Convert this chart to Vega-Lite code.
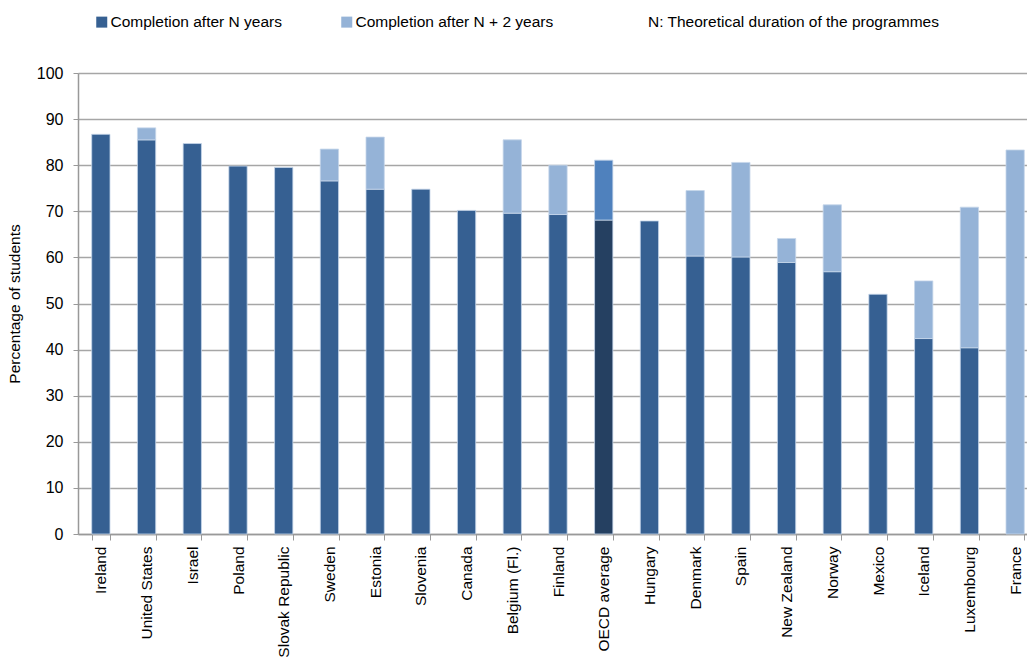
{
  "$schema": "https://vega.github.io/schema/vega-lite/v6.json",
  "width": 949,
  "height": 461,
  "autosize": {"type": "none"},
  "padding": {"left": 78, "top": 73, "right": 0, "bottom": 126},
  "background": "white",
  "config": {
    "font": "Liberation Sans",
    "view": {"stroke": null}
  },
  "title": {
    "text": "N: Theoretical duration of the programmes",
    "anchor": "start",
    "frame": "group",
    "dx": 570,
    "offset": 3,
    "dy": 19,
    "fontSize": 15.5,
    "fontWeight": "normal",
    "color": "#000000",
    "font": "Liberation Sans"
  },
  "data": {
    "values": [
      {"country": "Ireland", "series": "Completion after N years", "value": 86.7},
      {"country": "United States", "series": "Completion after N years", "value": 85.5},
      {"country": "United States", "series": "Completion after N + 2 years", "value": 2.6},
      {"country": "Israel", "series": "Completion after N years", "value": 84.7},
      {"country": "Poland", "series": "Completion after N years", "value": 79.8},
      {"country": "Slovak Republic", "series": "Completion after N years", "value": 79.5},
      {"country": "Sweden", "series": "Completion after N years", "value": 76.6},
      {"country": "Sweden", "series": "Completion after N + 2 years", "value": 6.9},
      {"country": "Estonia", "series": "Completion after N years", "value": 74.8},
      {"country": "Estonia", "series": "Completion after N + 2 years", "value": 11.3},
      {"country": "Slovenia", "series": "Completion after N years", "value": 74.8},
      {"country": "Canada", "series": "Completion after N years", "value": 70.2},
      {"country": "Belgium (Fl.)", "series": "Completion after N years", "value": 69.6},
      {"country": "Belgium (Fl.)", "series": "Completion after N + 2 years", "value": 15.9},
      {"country": "Finland", "series": "Completion after N years", "value": 69.3},
      {"country": "Finland", "series": "Completion after N + 2 years", "value": 10.7},
      {"country": "OECD average", "series": "Completion after N years", "value": 68.1},
      {"country": "OECD average", "series": "Completion after N + 2 years", "value": 13.0},
      {"country": "Hungary", "series": "Completion after N years", "value": 67.9},
      {"country": "Denmark", "series": "Completion after N years", "value": 60.3},
      {"country": "Denmark", "series": "Completion after N + 2 years", "value": 14.2},
      {"country": "Spain", "series": "Completion after N years", "value": 60.1},
      {"country": "Spain", "series": "Completion after N + 2 years", "value": 20.5},
      {"country": "New Zealand", "series": "Completion after N years", "value": 58.9},
      {"country": "New Zealand", "series": "Completion after N + 2 years", "value": 5.2},
      {"country": "Norway", "series": "Completion after N years", "value": 56.9},
      {"country": "Norway", "series": "Completion after N + 2 years", "value": 14.5},
      {"country": "Mexico", "series": "Completion after N years", "value": 52.0},
      {"country": "Iceland", "series": "Completion after N years", "value": 42.4},
      {"country": "Iceland", "series": "Completion after N + 2 years", "value": 12.5},
      {"country": "Luxembourg", "series": "Completion after N years", "value": 40.4},
      {"country": "Luxembourg", "series": "Completion after N + 2 years", "value": 30.5},
      {"country": "France", "series": "Completion after N + 2 years", "value": 83.3}
    ]
  },
  "transform": [
    {"calculate": "datum.country === 'OECD average' ? 'OECD ' + datum.series : datum.series", "as": "colorKey"},
    {"calculate": "datum.series === 'Completion after N years' ? 0 : 1", "as": "ord"}
  ],
  "mark": {"type": "bar", "stroke": "#c5d5ea", "strokeWidth": 0.8},
  "encoding": {
    "x": {
      "field": "country",
      "type": "nominal",
      "sort": null,
      "scale": {"range": [0, 960], "paddingInner": 0.6, "paddingOuter": 0.3},
      "axis": {
        "title": null,
        "labelAngle": -90,
        "labelAlign": "right",
        "labelBaseline": "middle",
        "labelFontSize": 15.5,
        "labelColor": "#000000",
        "labelPadding": 6,
        "labelFont": "Liberation Sans",
        "tickBand": "extent",
        "tickColor": "#999999",
        "tickSize": 6,
        "domainColor": "#999999",
        "domainWidth": 1.5,
        "labelOverlap": false
      }
    },
    "y": {
      "field": "value",
      "type": "quantitative",
      "stack": "zero",
      "scale": {"domain": [0, 100], "nice": false},
      "axis": {
        "title": "Percentage of students",
        "titleFontSize": 15.5,
        "titleFontWeight": "normal",
        "titleColor": "#000000",
        "titleFont": "Liberation Sans",
        "titlePadding": 14,
        "values": [0, 10, 20, 30, 40, 50, 60, 70, 80, 90, 100],
        "labelFontSize": 16,
        "labelColor": "#000000",
        "labelFont": "Liberation Sans",
        "labelPadding": 10,
        "tickColor": "#999999",
        "tickSize": 5,
        "domainColor": "#999999",
        "domainWidth": 1.5,
        "gridColor": "#a6a6a6",
        "gridWidth": 1.5
      }
    },
    "order": {"field": "ord", "type": "quantitative"},
    "color": {
      "field": "colorKey",
      "type": "nominal",
      "scale": {
        "domain": ["Completion after N years", "Completion after N + 2 years", "OECD Completion after N years", "OECD Completion after N + 2 years"],
        "range": ["#366092", "#95b3d7", "#254061", "#4f81bd"]
      },
      "legend": {
        "title": null,
        "values": ["Completion after N years", "Completion after N + 2 years"],
        "orient": "none",
        "direction": "horizontal",
        "legendX": 16,
        "legendY": -59,
        "symbolType": "square",
        "symbolSize": 121,
        "symbolStrokeWidth": 0,
        "labelFontSize": 15.5,
        "labelColor": "#000000",
        "labelFont": "Liberation Sans",
        "labelOffset": 1,
        "columnPadding": 57,
        "labelLimit": 400
      }
    }
  }
}
